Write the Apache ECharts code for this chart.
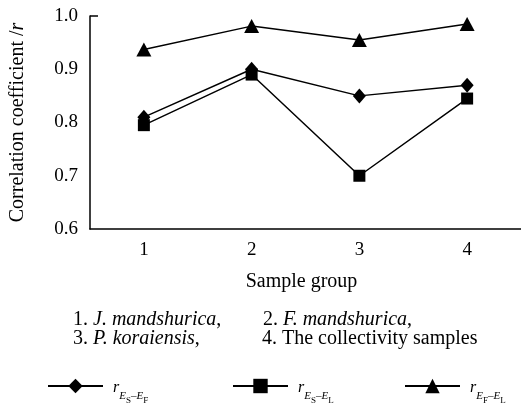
<!DOCTYPE html>
<html>
<head>
<meta charset="utf-8">
<script src="https://cdn.jsdelivr.net/npm/echarts@6/dist/echarts.min.js"></script>
<style>html,body{margin:0;padding:0;background:#fff}#c{width:521px;height:403px}</style>
</head>
<body>
<div id="c"></div>
<script>
var categories = ['1', '2', '3', '4'];
var rSF = [0.81, 0.90, 0.85, 0.87];   // diamond
var rSL = [0.795, 0.89, 0.70, 0.845]; // square
var rFL = [0.937, 0.981, 0.955, 0.985]; // triangle
var yTicks = [0.6, 0.7, 0.8, 0.9, 1.0];

var FONT = 'Liberation Serif';
var chart = echarts.init(document.getElementById('c'));

var subRich = {
  r: {fontFamily: FONT, fontStyle: 'italic', fontSize: 16, lineHeight: 16, padding: [3, 0, 0, 0], color: '#000'},
  e: {fontFamily: FONT, fontStyle: 'italic', fontSize: 11, lineHeight: 11, padding: [20, 0, 0, 0], color: '#000'},
  d: {fontFamily: FONT, fontSize: 11, lineHeight: 11, padding: [20, 0, 0, 0], color: '#000'},
  s: {fontFamily: FONT, fontSize: 9, lineHeight: 9, padding: [29, 0, 0, 0], color: '#000'}
};
var labels = {
  rSF: '{r|r}{e|E}{s|S}{d|–}{e|E}{s|F}',
  rSL: '{r|r}{e|E}{s|S}{d|–}{e|E}{s|L}',
  rFL: '{r|r}{e|E}{s|F}{d|–}{e|E}{s|L}'
};
function mkLegend(name, left) {
  return {
    data: [name], left: left, top: 367, padding: 0, itemWidth: 55, itemHeight: 18,
    formatter: function (n) { return labels[n]; },
    textStyle: {rich: subRich, padding: [0, 0, 0, 5]},
    selectedMode: false
  };
}
function mkSeries(name, data, symbol, size) {
  return {
    name: name, type: 'line', data: data, symbol: symbol, symbolSize: size,
    lineStyle: {color: '#000', width: 1.5}, itemStyle: {color: '#000'},
    emphasis: {disabled: true}, animation: false
  };
}
var txt = {fontFamily: FONT, fontSize: 20, color: '#000'};
var it = {fontFamily: FONT, fontSize: 20, fontStyle: 'italic', color: '#000'};
function note(x, y, text) {
  return {type: 'text', left: x, top: y, style: {text: text, rich: {n: txt, i: it}, font: '20px ' + FONT, fill: '#000'}};
}

chart.setOption({
  backgroundColor: '#fff',
  animation: false,
  grid: {left: 90, top: 16, right: -1, bottom: 174, containLabel: false},
  xAxis: {
    type: 'category', data: categories, boundaryGap: true,
    axisLine: {lineStyle: {color: '#000', width: 1.5}},
    axisTick: {inside: true, length: 6, lineStyle: {color: '#000', width: 1.5}},
    axisLabel: {fontFamily: FONT, fontSize: 19, color: '#000', margin: 12},
    name: 'Sample group', nameLocation: 'middle', nameGap: 43,
    nameTextStyle: {fontFamily: FONT, fontSize: 20, color: '#000', padding: [0, 8, 0, 0]},
    splitLine: {show: false}
  },
  yAxis: {
    type: 'value', min: yTicks[0], max: yTicks[yTicks.length - 1], interval: 0.1,
    axisLine: {show: true, lineStyle: {color: '#000', width: 1.5}},
    axisTick: {show: true, inside: true, length: 8, customValues: [1.0], lineStyle: {color: '#000', width: 1.5}},
    axisLabel: {fontFamily: FONT, fontSize: 19, color: '#000', margin: 12, formatter: function (v) { return v.toFixed(1); }},
    splitLine: {show: false},
    name: '{n|Correlation coefficient /}{i|r}', nameLocation: 'middle', nameGap: 62,
    nameTextStyle: {fontFamily: FONT, fontSize: 20, color: '#000', rich: {n: txt, i: it}}
  },
  legend: [mkLegend('rSF', 47), mkLegend('rSL', 232), mkLegend('rFL', 404)],
  series: [
    mkSeries('rSF', rSF, 'diamond', [13, 15]),
    mkSeries('rSL', rSL, 'rect', 12),
    mkSeries('rFL', rFL, 'triangle', [15, 14])
  ],
  graphic: [
    note(73, 310, '{n|1. }{i|J. mandshurica}{n|,}'),
    note(263, 310, '{n|2. }{i|F. mandshurica}{n|,}'),
    note(73, 329, '{n|3. }{i|P. koraiensis}{n|,}'),
    note(262, 329, '{n|4. The collectivity samples}')
  ]
});
</script>
</body>
</html>
